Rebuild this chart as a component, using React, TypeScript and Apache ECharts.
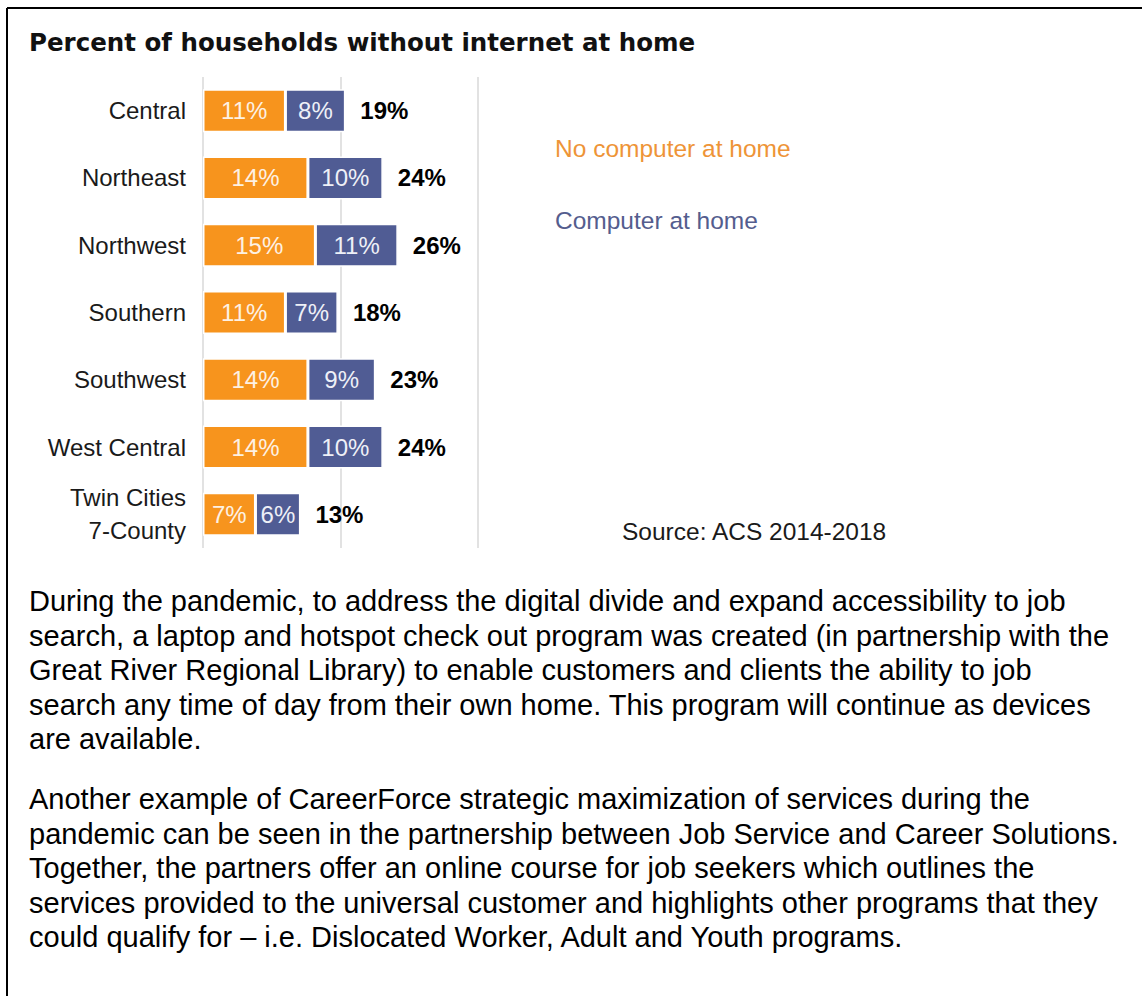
import React, { useEffect, useRef } from "react";
import * as echarts from "echarts";

const categories = [
  "Central",
  "Northeast",
  "Northwest",
  "Southern",
  "Southwest",
  "West Central",
  "Twin Cities\n7-County",
];
const noComputer = [11, 14, 15, 11, 14, 14, 7];
const computerAtHome = [8, 10, 11, 7, 9, 10, 6];
const totals = [19, 24, 26, 18, 23, 24, 13];
const axisMax = 36.7;
const gridInterval = 18.35;

const titleText = "Percent of households without internet at home";
const legendNoComputer = "No computer at home";
const legendComputer = "Computer at home";
const sourceText = "Source: ACS 2014-2018";

const paragraph1 = [
  "During the pandemic, to address the digital divide and expand accessibility to job",
  "search, a laptop and hotspot check out program was created (in partnership with the",
  "Great River Regional Library) to enable customers and clients the ability to job",
  "search any time of day from their own home. This program will continue as devices",
  "are available.",
];
const paragraph2 = [
  "Another example of CareerForce strategic maximization of services during the",
  "pandemic can be seen in the partnership between Job Service and Career Solutions.",
  "Together, the partners offer an online course for job seekers which outlines the",
  "services provided to the universal customer and highlights other programs that they",
  "could qualify for \u2013 i.e. Dislocated Worker, Adult and Youth programs.",
];

const ORANGE = "#F7941D";
const BLUE = "#505C94";
const SANS = "'Liberation Sans', Arial, sans-serif";

export default function App() {
  const ref = useRef<HTMLDivElement>(null);
  useEffect(() => {
    if (!ref.current) return;
    const chart = echarts.init(ref.current, undefined, { renderer: "svg" });
    const paraSize = 29;
    const lineStep = 34.5;
    const paraLines: any[] = [];
    paragraph1.forEach((t, i) => {
      paraLines.push({
        type: "text",
        x: 29,
        y: 601 + i * lineStep,
        style: {
          text: t,
          fontSize: paraSize,
          fontFamily: SANS,
          fill: "#000",
          verticalAlign: "middle",
        },
      });
    });
    paragraph2.forEach((t, i) => {
      paraLines.push({
        type: "text",
        x: 29,
        y: 799 + i * lineStep,
        style: {
          text: t,
          fontSize: paraSize,
          fontFamily: SANS,
          fill: "#000",
          verticalAlign: "middle",
        },
      });
    });
    chart.setOption({
      animation: false,
      backgroundColor: "#fff",
      grid: { left: 203, top: 77, width: 275, height: 471, containLabel: false },
      xAxis: {
        type: "value",
        min: 0,
        max: axisMax,
        interval: gridInterval,
        axisLabel: { show: false },
        axisLine: { show: false },
        axisTick: { show: false },
        splitLine: { show: true, lineStyle: { color: "#D9D9D9", width: 1.5 } },
      },
      yAxis: {
        type: "category",
        data: categories,
        inverse: true,
        axisLine: { show: false },
        axisTick: { show: false },
        axisLabel: {
          margin: 17,
          fontSize: 24,
          fontFamily: SANS,
          color: "#1a1a1a",
          lineHeight: 33,
          align: "right",
        },
      },
      series: [
        {
          name: legendNoComputer,
          type: "bar",
          stack: "total",
          barWidth: 43,
          data: noComputer,
          itemStyle: { color: ORANGE, borderColor: "#fff", borderWidth: 1.5 },
          label: {
            show: true,
            position: "inside",
            formatter: "{c}%",
            fontSize: 24,
            fontFamily: SANS,
            color: "#FDF1E4",
          },
        },
        {
          name: legendComputer,
          type: "bar",
          stack: "total",
          barWidth: 43,
          data: computerAtHome,
          itemStyle: { color: BLUE, borderColor: "#fff", borderWidth: 1.5 },
          label: {
            show: true,
            position: "inside",
            formatter: "{c}%",
            fontSize: 24,
            fontFamily: SANS,
            color: "#EEF0F7",
          },
        },
        {
          name: "Total",
          type: "bar",
          barWidth: 43,
          barGap: "-100%",
          data: totals,
          silent: true,
          z: 1,
          itemStyle: { color: "rgba(0,0,0,0)" },
          label: {
            show: true,
            position: "right",
            distance: 15,
            formatter: "{c}%",
            fontSize: 24,
            fontWeight: "bold",
            fontFamily: SANS,
            color: "#000",
          },
        },
      ],
      graphic: [
        {
          type: "line",
          shape: { x1: 7, y1: 8, x2: 1142, y2: 8 },
          style: { stroke: "#000", lineWidth: 2 },
        },
        {
          type: "line",
          shape: { x1: 7, y1: 8, x2: 7, y2: 996 },
          style: { stroke: "#000", lineWidth: 2 },
        },
        {
          type: "text",
          left: 29,
          top: 30,
          style: {
            text: titleText,
            fontSize: 24.5,
            fontWeight: "bold",
            fontFamily: "'DejaVu Sans', Verdana, sans-serif",
            fill: "#111",
          },
        },
        {
          type: "text",
          left: 555,
          top: 136,
          style: { text: legendNoComputer, fontSize: 24.5, fontFamily: SANS, fill: "#EE9437" },
        },
        {
          type: "text",
          left: 555,
          top: 208,
          style: { text: legendComputer, fontSize: 24.5, fontFamily: SANS, fill: "#545D8E" },
        },
        {
          type: "text",
          left: 622,
          top: 519,
          style: { text: sourceText, fontSize: 24.5, fontFamily: SANS, fill: "#1a1a1a" },
        },
        ...paraLines,
      ],
    });
    return () => chart.dispose();
  }, []);
  return (
    <div
      ref={ref}
      style={{ position: "fixed", left: 0, top: 0, width: 1142, height: 996, background: "#fff" }}
    />
  );
}
